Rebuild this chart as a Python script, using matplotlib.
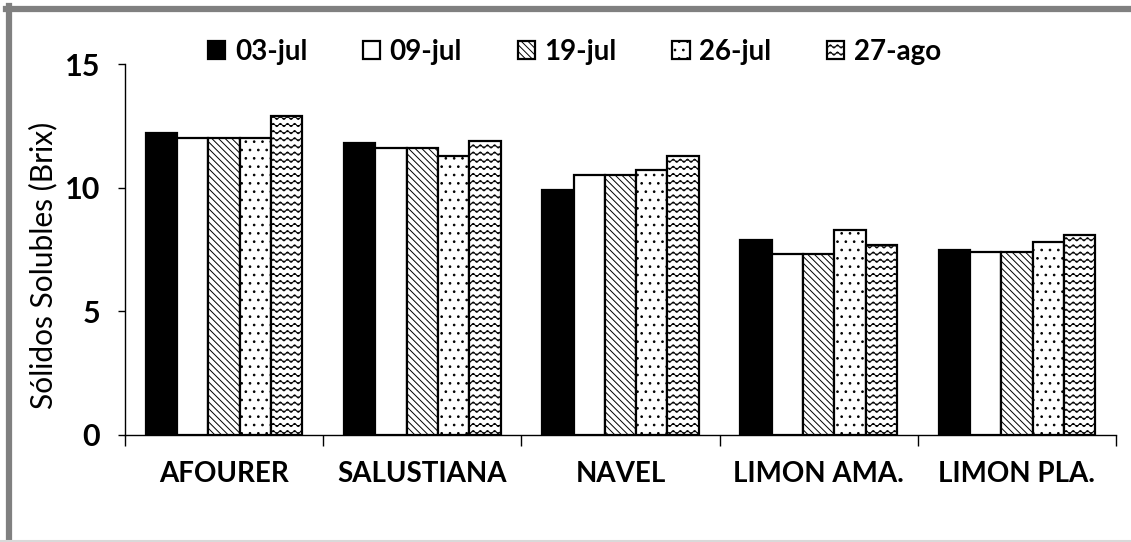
import warnings
import numpy as np
import matplotlib
matplotlib.use('Agg')
import matplotlib.pyplot as plt
import matplotlib.hatch as mhatch
from matplotlib.path import Path
from matplotlib.lines import Line2D

warnings.filterwarnings('ignore')

variedades = ['AFOURER', 'SALUSTIANA', 'NAVEL', 'LIMON AMA.', 'LIMON PLA.']
fechas = ['03-jul', '09-jul', '19-jul', '26-jul', '27-ago']
jul03 = [12.2, 11.8, 9.9, 7.9, 7.5]
jul09 = [12.0, 11.6, 10.5, 7.3, 7.4]
jul19 = [12.0, 11.6, 10.5, 7.3, 7.4]
jul26 = [12.0, 11.3, 10.7, 8.3, 7.8]
ago27 = [12.9, 11.9, 11.3, 7.7, 8.1]
series = [jul03, jul09, jul19, jul26, ago27]


# wavy hatch, selected with '~'
class WaveHatch(mhatch.HatchPatternBase):
    def __init__(self, hatch, density):
        self.rows = int(round(hatch.count('~') * density * 2.4))
        self.pts = 113
        self.num_vertices = self.rows * self.pts

    def set_vertices_and_codes(self, vertices, codes):
        x = np.linspace(0, 1, self.pts)
        k = 0
        for i in range(self.rows):
            y0 = (i + 0.5) / self.rows
            vertices[k:k + self.pts, 0] = x
            vertices[k:k + self.pts, 1] = y0 + 0.016 * np.sin(2 * np.pi * 14 * x)
            codes[k] = Path.MOVETO
            codes[k + 1:k + self.pts] = Path.LINETO
            k += self.pts


mhatch._hatch_types.append(WaveHatch)

plt.rcParams['font.family'] = ['Lato', 'DejaVu Sans']
plt.rcParams['hatch.linewidth'] = 0.7

colores = ['black', 'white', 'white', 'white', 'white']
tramas = [None, None, '\\\\\\\\\\', '..', '~']

fig = plt.figure(figsize=(11.31, 5.42), dpi=100)
ax = fig.add_axes([125 / 1131, 1 - 435 / 542, 991 / 1131, 371 / 542])

x = np.arange(len(variedades))
w = 0.158
for i, vals in enumerate(series):
    ax.bar(x + (i - 2) * w, vals, w, color=colores[i], edgecolor='black',
           linewidth=1.6, hatch=tramas[i], label=fechas[i], zorder=2)

ax.set_xlim(-0.5, 4.5)
ax.set_ylim(0, 15)
ax.set_yticks([0, 5, 10, 15])
ax.set_xticks(x)
ax.set_xticklabels(variedades, fontsize=20, fontweight='bold')
ax.set_xticks(np.arange(-0.5, 5, 1), minor=True)
ax.tick_params(axis='x', which='major', length=0, pad=19)
ax.tick_params(axis='x', which='minor', length=8, width=1, direction='out')
ax.tick_params(axis='y', length=5, width=1, direction='out', pad=13)
for t in ax.get_yticklabels():
    t.set_fontsize(22)
    t.set_fontweight('bold')

ax.spines['top'].set_visible(False)
ax.spines['right'].set_visible(False)
ax.spines['left'].set_linewidth(1)
ax.spines['bottom'].set_linewidth(1)

ax.set_ylabel('Sólidos Solubles (Brix)', fontsize=21.5)
ax.yaxis.set_label_coords(-68 / 991, 0.456)

ax.legend(loc='center', bbox_to_anchor=(0.4535, 1.032), ncol=5, frameon=False,
          prop={'weight': 'bold', 'size': 20},
          handlelength=0.62, handleheight=0.62, handletextpad=0.35,
          columnspacing=2.0)

# grey frame around the chart
fig.add_artist(Line2D([6 / 1131, 1], [1 - 9 / 542, 1 - 9 / 542],
                      transform=fig.transFigure, color='#808080', lw=4.5))
fig.add_artist(Line2D([9 / 1131, 9 / 1131], [0, 1 - 6 / 542],
                      transform=fig.transFigure, color='#808080', lw=4.5))
fig.add_artist(Line2D([0, 1], [1.5 / 542, 1.5 / 542],
                      transform=fig.transFigure, color='#d9d9d9', lw=1.5))

fig.savefig('out.png', dpi=100)
